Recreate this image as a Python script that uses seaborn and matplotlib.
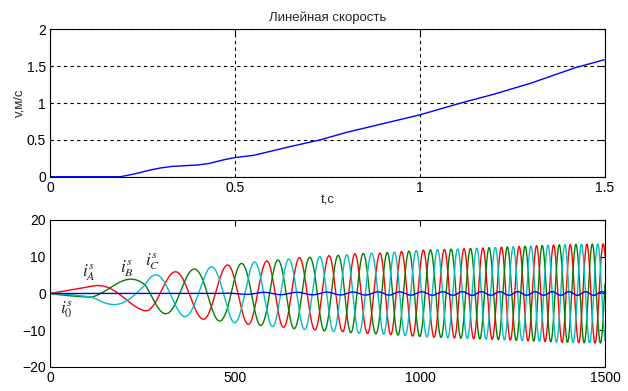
import numpy as np
import pandas as pd
import matplotlib
matplotlib.use("Agg")
import matplotlib.pyplot as plt
import seaborn as sns

# top plot: linear speed
speed_t = [0, 0.19, 0.23, 0.27, 0.30, 0.33, 0.40, 0.43, 0.47, 0.50, 0.55,
           0.60, 0.65, 0.73, 0.80, 0.90, 1.00, 1.11, 1.20, 1.30, 1.42, 1.50]
speed_v = [0, 0, 0.04, 0.09, 0.12, 0.14, 0.16, 0.18, 0.23, 0.26, 0.29,
           0.35, 0.41, 0.50, 0.60, 0.72, 0.84, 1.00, 1.12, 1.27, 1.48, 1.59]

# bottom plot: extrema of phase A current (time, value)
ext_t = [113, 257, 338, 414, 480, 536, 586, 631, 674, 716, 754, 791, 824, 858,
         892, 921, 950, 980, 1009, 1038, 1066, 1093, 1119, 1145, 1170, 1195,
         1220, 1244, 1268, 1292, 1315, 1338, 1361, 1384, 1406, 1429, 1451,
         1473, 1495, 1517]
ext_v = [2.0, -4.7, 5.9, -7.0, 7.75, -8.4, 8.85, -9.2, 9.75, -9.9, 10.3, -10.4,
         10.8, -10.9, 11.0, -11.2, 11.4, -11.6, 11.8, -11.9, 12.0, -12.1, 12.2,
         -12.3, 12.4, -12.5, 12.6, -12.7, 12.8, -12.9, 13.0, -13.1, 13.2, -13.3,
         13.3, -13.4, 13.4, -13.5, 13.5, -13.5]
start_phase = -0.12  # phase of A at t=0, in pi

# zero-sequence ripple amplitude
i0_t = [0, 450, 550, 700, 900, 1100, 1500]
i0_amp = [0, 0, 0.3, 0.35, 0.45, 0.5, 0.5]

label_text = [r"$i_A^s$", r"$i_B^s$", r"$i_C^s$", r"$i_0^s$"]
label_x = [105, 208, 278, 46]
label_y = [5.6, 6.9, 8.6, -4.5]

sns.set_style("white")
plt.rcParams["font.family"] = ["Liberation Sans", "DejaVu Sans"]
plt.rcParams["mathtext.fontset"] = "stix"

fig = plt.figure(figsize=(6.28, 3.91), dpi=100)
ax1 = fig.add_axes([0.0796, 0.548, 0.8838, 0.377])
ax2 = fig.add_axes([0.0796, 0.0614, 0.8838, 0.376])

# --- speed ---
sns.lineplot(x=speed_t, y=speed_v, color="#0000ff", lw=1, ax=ax1)
ax1.set_xlim(0, 1.5)
ax1.set_ylim(0, 2)
ax1.set_xticks([0, 0.5, 1, 1.5])
ax1.set_xticklabels(["0", "0.5", "1", "1.5"])
ax1.set_yticks([0, 0.5, 1, 1.5, 2])
ax1.set_yticklabels(["0", "0.5", "1", "1.5", "2"])
ax1.grid(True, color="black", linestyle=(0, (3, 3)), lw=0.8)
ax1.set_title("Линейная скорость", fontsize=9.5, pad=6)
ax1.set_xlabel("t,c", fontsize=9.5, labelpad=0)
ax1.set_ylabel("v,м/с", fontsize=9.5, labelpad=1)

# --- phase currents ---
t = np.arange(0, 1501)
phase = np.interp(t, [0] + ext_t, [start_phase * np.pi] + [k * np.pi for k in range(len(ext_t))])
amp = np.interp(t, [0] + ext_t, [0] + [abs(v) for v in ext_v])
rip = np.interp(t, i0_t, i0_amp)

df = pd.concat([
    pd.DataFrame({"t": t, "i": amp * np.cos(phase), "ph": "A"}),
    pd.DataFrame({"t": t, "i": amp * np.cos(phase - 2 * np.pi / 3), "ph": "B"}),
    pd.DataFrame({"t": t, "i": amp * np.cos(phase - 4 * np.pi / 3), "ph": "C"}),
    pd.DataFrame({"t": t, "i": rip * np.cos(phase + 0.5), "ph": "0"}),
])
pal = {"A": "#ff0000", "B": "#008000", "C": "#00bfbf", "0": "#0000ff"}
sns.lineplot(data=df, x="t", y="i", hue="ph", hue_order=["A", "B", "C", "0"],
             palette=pal, lw=1, legend=False, estimator=None, ax=ax2)
ax2.set_xlim(0, 1500)
ax2.set_ylim(-20, 20)
ax2.set_xticks([0, 500, 1000, 1500])
ax2.set_yticks([-20, -10, 0, 10, 20])
ax2.set_xlabel("")
ax2.set_ylabel("")
for s, x, y in zip(label_text, label_x, label_y):
    ax2.text(x, y, s, fontsize=12.5, ha="center", va="center")

for ax in (ax1, ax2):
    ax.tick_params(direction="in", top=True, right=True, length=4, width=0.8,
                   labelsize=10, pad=3, colors="black")
    for sp in ax.spines.values():
        sp.set_color("black")
        sp.set_linewidth(0.8)

fig.savefig("out.png", dpi=100)
